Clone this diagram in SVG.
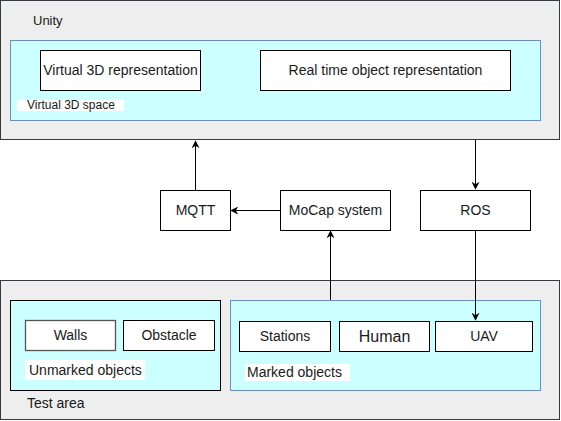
<svg xmlns="http://www.w3.org/2000/svg" width="561" height="421" viewBox="0 0 561 421">
<style>
.bg{fill:#eeeeee;stroke:#36393d;stroke-width:1}
.cy{fill:#ccffff;stroke:#6c8ebf;stroke-width:1}
.cyb{fill:#ccffff;stroke:#000;stroke-width:1}
.box{fill:#fff;stroke:#000;stroke-width:1}
.lbl{fill:#fff;stroke:none}
text{font-family:"Liberation Sans",Arial,sans-serif;font-size:14px;fill:#1a1a1a}
.c{text-anchor:middle}
.s{font-size:12px}
.conn{stroke:#000;stroke-width:1;fill:none;marker-end:url(#ah)}
</style>
<defs>
<marker id="ah" viewBox="0 0 10 10" refX="9" refY="5" markerWidth="8" markerHeight="8" markerUnits="userSpaceOnUse" orient="auto">
<path d="M0,0 L10,5 L0,10 L3,5 Z" fill="#000"/>
</marker>
</defs>
<g id="unity">
<rect class="bg" x="0.5" y="0.5" width="559" height="139"/>
<text x="33" y="25" style="font-size:13px">Unity</text>
</g>
<g id="virtual-space">
<rect class="cy" x="10.5" y="40.5" width="530" height="80"/>
<rect class="lbl" x="17" y="100" width="107" height="11"/>
<text class="s" x="27" y="109">Virtual 3D space</text>
</g>
<g id="v3d">
<rect class="box" x="40.5" y="50.5" width="160" height="40"/>
<text class="c" x="120.5" y="75">Virtual 3D representation</text>
</g>
<g id="rtor">
<rect class="box" x="260.5" y="50.5" width="250" height="40"/>
<text class="c" x="385.5" y="75">Real time object representation</text>
</g>
<g id="mqtt">
<rect class="box" x="160.5" y="190.5" width="70" height="40"/>
<text class="c" x="195.5" y="215">MQTT</text>
</g>
<g id="mocap">
<rect class="box" x="280.5" y="190.5" width="110" height="40"/>
<text class="c" x="335.5" y="215">MoCap system</text>
</g>
<g id="ros">
<rect class="box" x="420.5" y="190.5" width="110" height="40"/>
<text class="c" x="475.5" y="215">ROS</text>
</g>
<g id="test-area">
<rect class="bg" x="0.5" y="280.5" width="559" height="139"/>
<text x="27" y="408">Test area</text>
</g>
<g id="unmarked">
<rect class="cyb" x="10.5" y="300.5" width="210" height="90"/>
<rect class="lbl" x="25" y="360" width="120" height="20"/>
<text x="29" y="375">Unmarked objects</text>
</g>
<g id="walls">
<rect class="box" x="25.5" y="320.5" width="90" height="30" style="stroke:#555;stroke-width:1.3"/>
<text class="c" x="70.5" y="340">Walls</text>
</g>
<g id="obstacle">
<rect class="box" x="123.5" y="320.5" width="91" height="30"/>
<text class="c" x="169" y="340">Obstacle</text>
</g>
<g id="marked">
<rect class="cy" x="230.5" y="300.5" width="310" height="90"/>
<rect class="lbl" x="245" y="364" width="105" height="17"/>
<text x="247" y="377">Marked objects</text>
</g>
<g id="stations">
<rect class="box" x="239.5" y="321.5" width="91" height="30"/>
<text class="c" x="285" y="341">Stations</text>
</g>
<g id="human">
<rect class="box" x="339.5" y="321.5" width="90" height="30"/>
<text class="c" x="384.5" y="342" style="font-size:16px">Human</text>
</g>
<g id="uav">
<rect class="box" x="435.5" y="321.5" width="97" height="30"/>
<text class="c" x="484" y="341">UAV</text>
</g>
<g id="connectors">
<path class="conn" d="M195.5,190 L195.5,141"/>
<path class="conn" d="M280,210.5 L231,210.5"/>
<path class="conn" d="M475.5,140 L475.5,189"/>
<path class="conn" d="M330.5,300 L330.5,231"/>
<path class="conn" d="M475.5,231 L475.5,320"/>
</g>
</svg>
